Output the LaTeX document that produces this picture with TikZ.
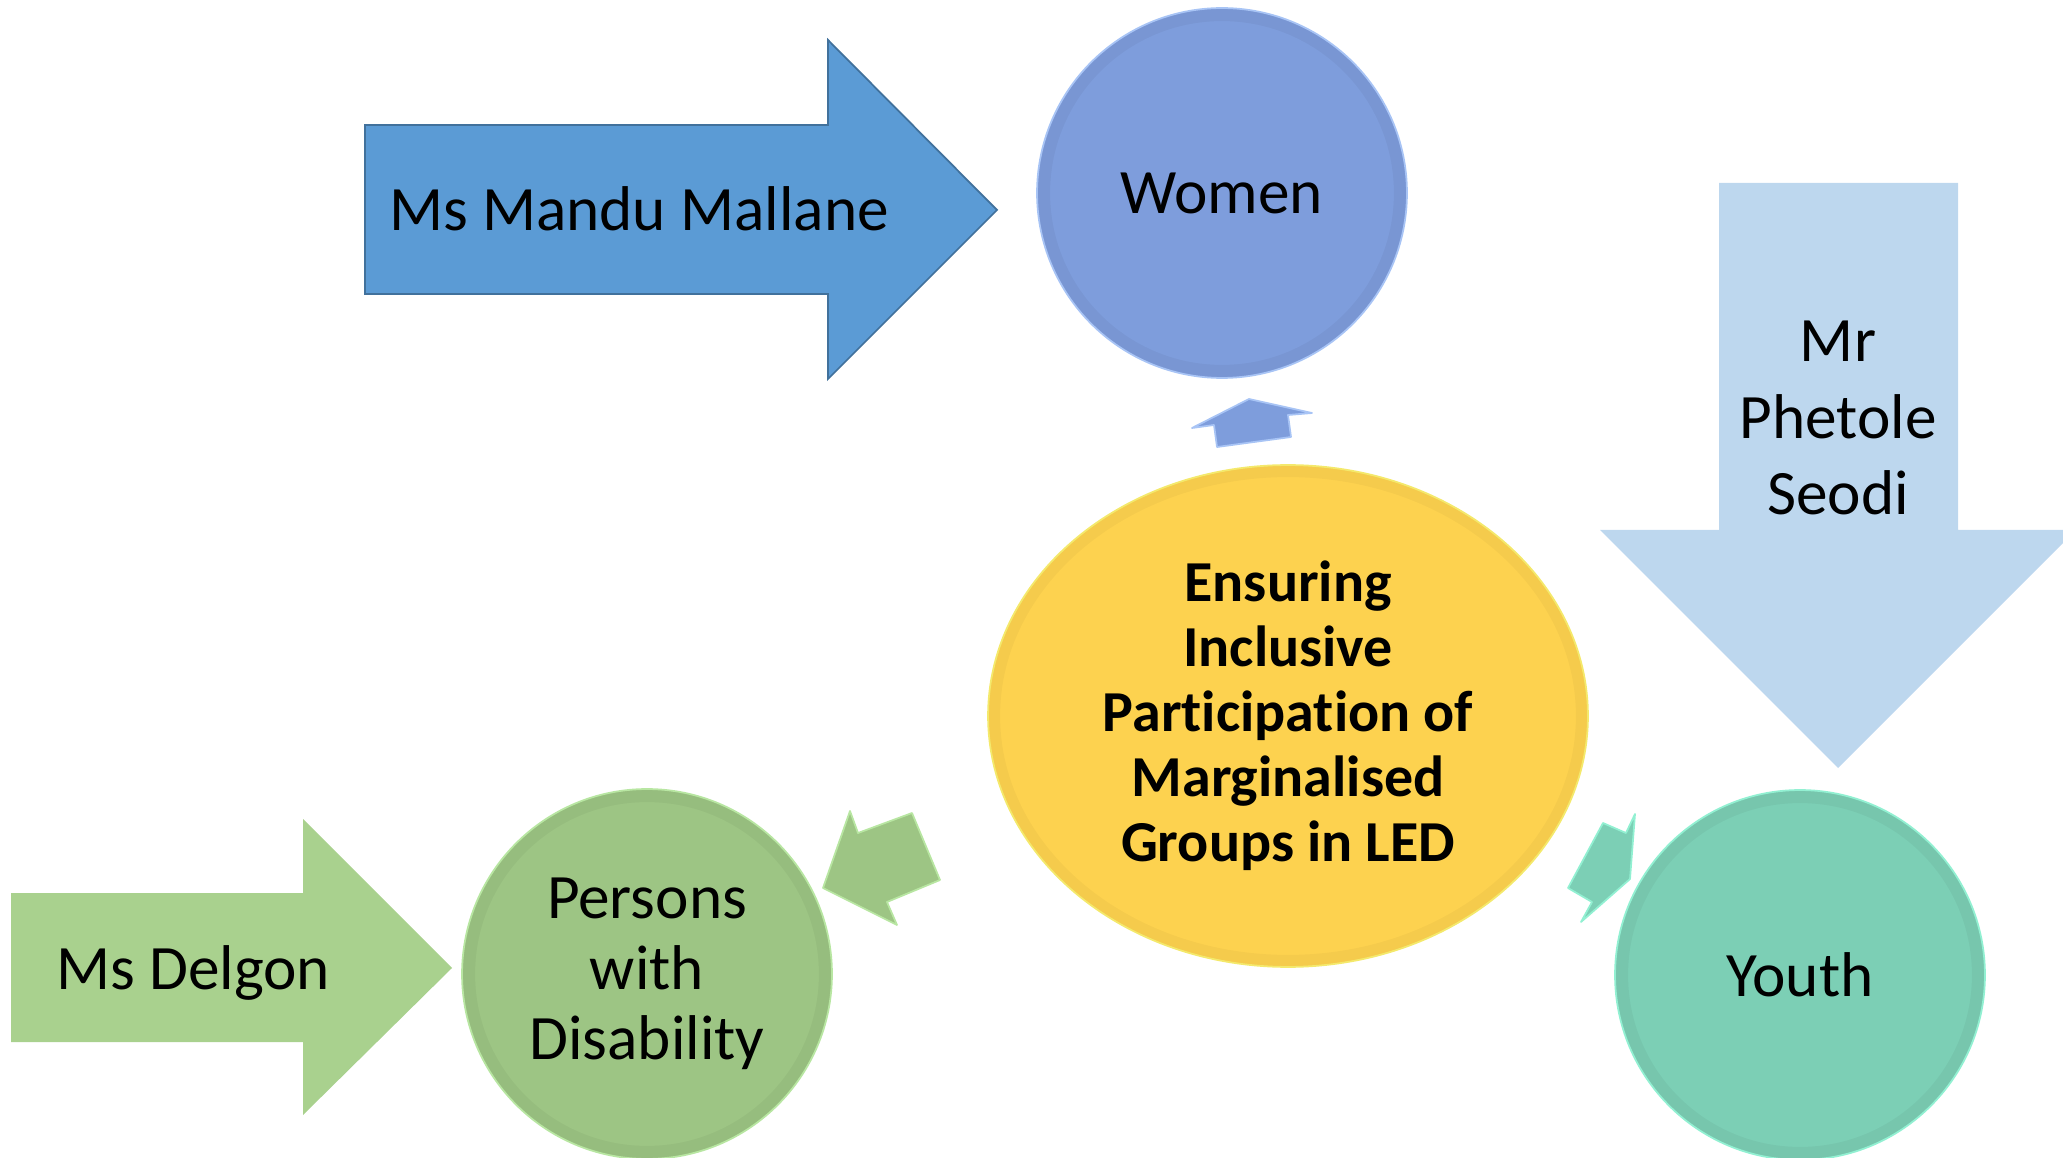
\documentclass[tikz,border=0pt]{standalone}
\usepackage{fontspec}
\setmainfont{Carlito}[Ligatures=NoCommon]
\usetikzlibrary{shapes.geometric}
\definecolor{mallaneblue}{HTML}{5B9BD5}
\definecolor{mallaneedge}{HTML}{41719C}
\definecolor{seodiblue}{HTML}{BDD7EE}
\definecolor{delgongreen}{HTML}{A9D18E}
\definecolor{womenblue}{HTML}{7E9DDC}
\definecolor{womenrim}{HTML}{A8C4F5}
\definecolor{pwdgreen}{HTML}{9DC584}
\definecolor{pwdrim}{HTML}{B8E6A2}
\definecolor{youthteal}{HTML}{7CCFB5}
\definecolor{youthrim}{HTML}{92F0D2}
\definecolor{hubyellow}{HTML}{FDD24F}
\definecolor{hubrim}{HTML}{F4E96C}
\begin{document}
\begin{tikzpicture}[x=0.02cm,y=-0.02cm,
  group/.style={circle,inner sep=0pt,minimum size=7.4cm,align=center,
    font=\fontsize{36}{40}\selectfont,line width=1pt},
  bevel/.style={path picture={\draw[black,opacity=0.04,line width=8pt]
    (path picture bounding box.center) circle[radius=3.58cm];}},
  label/.style={font=\fontsize{36}{43.3}\selectfont,align=center,inner sep=0pt},
  linker/.style={line width=1pt,line join=round}]
\useasboundingbox (0,0) rectangle (2063,1158);
\clip (0,0) rectangle (2063,1158);
% presenter arrows
\filldraw[fill=mallaneblue,draw=mallaneedge,line width=1pt] (365,125) -- (828,125)
 -- (828,40) -- (997,210) -- (828,379) -- (828,294) -- (365,294) -- cycle;
\fill[seodiblue] (1719,183) -- (1958,183) -- (1958,530) -- (2076,530)
 -- (1838,768) -- (1600,530) -- (1719,530) -- cycle;
\fill[delgongreen] (11,893) -- (303,893) -- (303,819) -- (452,968)
 -- (303,1115) -- (303,1042) -- (11,1042) -- cycle;
\node[label,anchor=base] (mallane) at (639,231) {Ms Mandu Mallane};
\node[label] (seodi) at (1838,418) {Mr\\Phetole\\Seodi};
\node[label,anchor=base] (delgon) at (193,989) {Ms Delgon};
% groups
\node[group,fill=womenblue,draw=womenrim,bevel] (women) at (1222,193) {Women};
\node[group,fill=pwdgreen,draw=pwdrim,bevel] (pwd) at (647,974) {Persons\\with\\Disability};
\node[group,fill=youthteal,draw=youthrim,bevel] (youth) at (1800,975) {Youth};
\node[ellipse,inner sep=0pt,minimum width=12cm,minimum height=10.04cm,
  fill=hubyellow,draw=hubrim,line width=1pt,align=center,
  font=\bfseries\fontsize{33}{37}\selectfont,
  path picture={\draw[black,opacity=0.03,line width=8pt]
    (path picture bounding box.center) ellipse[x radius=5.9cm,y radius=4.92cm];}]
  (hub) at (1288,716) {Ensuring\\Inclusive\\Participation of\\Marginalised\\Groups in LED};
% links from the hub
\filldraw[linker,fill=womenblue,draw=womenrim] (1192,428) -- (1249,399) -- (1312,413)
 -- (1288,415) -- (1291,437) -- (1217,447) -- (1214,425) -- cycle;
\filldraw[linker,fill=pwdgreen,draw=pwdrim] (823,888) -- (850,811) -- (858,833)
 -- (912,813) -- (940,880) -- (887,902) -- (897,925) -- cycle;
\filldraw[linker,fill=youthteal,draw=youthrim] (1635,814) -- (1630,879) -- (1581,922)
 -- (1592,902) -- (1568,888) -- (1603,823) -- (1626,833) -- cycle;
\end{tikzpicture}
\end{document}
